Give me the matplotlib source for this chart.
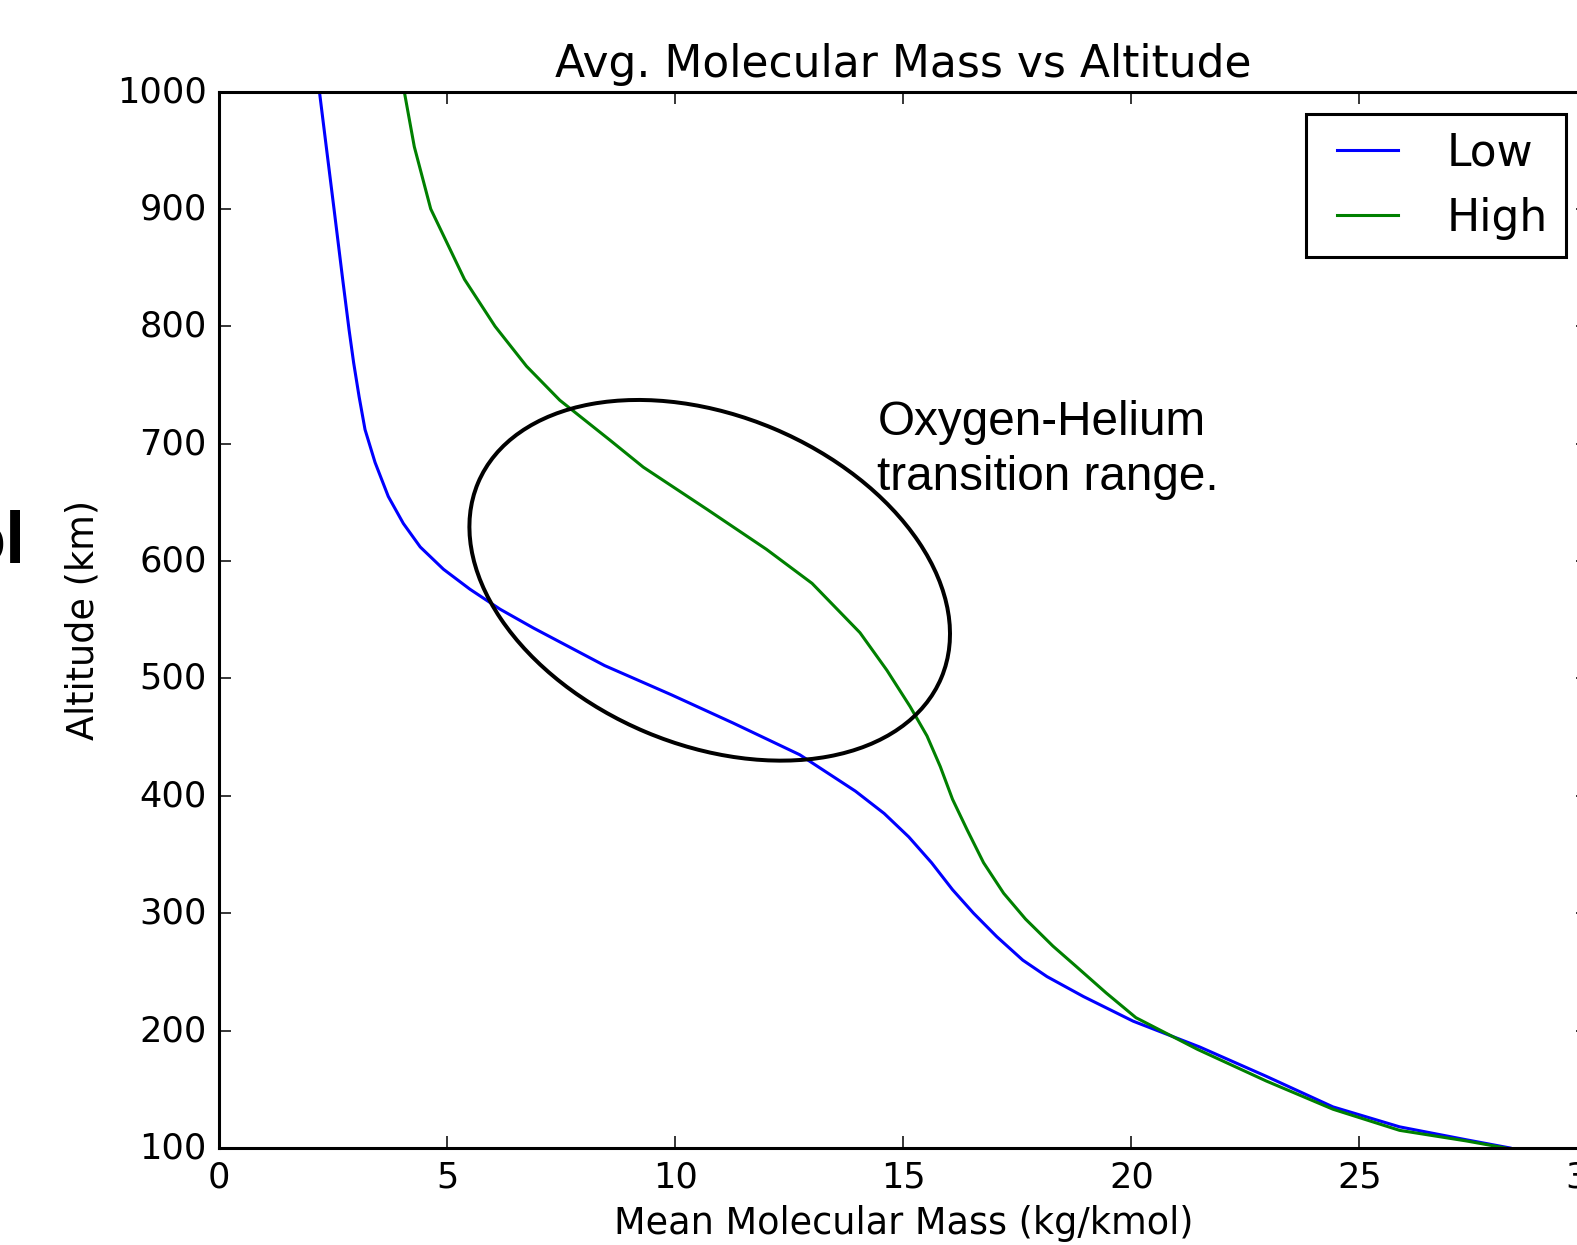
import matplotlib.pyplot as plt
from matplotlib.patches import Ellipse
from matplotlib.transforms import IdentityTransform

plt.style.use('classic')

# values (altitude in km, mass in kg/kmol)
alt_low = [1000, 953, 900, 840, 797, 769, 740, 712, 684, 655, 632, 612, 593, 576, 559, 543,
           511, 486, 462, 435, 404, 385, 365, 343, 320, 300, 280, 260, 246, 229, 208,
           186, 161, 135, 118, 107, 100]
mass_low = [2.20, 2.35, 2.52, 2.71, 2.85, 2.95, 3.07, 3.20, 3.42, 3.71, 4.04, 4.41, 4.92, 5.50, 6.16, 6.89,
            8.45, 9.92, 11.27, 12.73, 13.95, 14.58, 15.12, 15.62, 16.08, 16.54, 17.05, 17.62, 18.15, 18.95, 20.04,
            21.50, 22.96, 24.42, 25.88, 27.34, 28.30]

alt_high = [1000, 953, 900, 840, 800, 766, 737, 703, 680, 644, 610, 581, 539, 507,
            476, 451, 425, 397, 371, 343, 317, 295, 272, 255, 232, 211, 184,
            157, 133, 115, 106, 100]
mass_high = [4.06, 4.28, 4.64, 5.38, 6.05, 6.74, 7.47, 8.57, 9.30, 10.70, 12.00, 13.00, 14.05, 14.64,
             15.15, 15.52, 15.81, 16.08, 16.40, 16.76, 17.20, 17.68, 18.28, 18.78, 19.45, 20.10, 21.45,
             22.96, 24.42, 25.88, 27.34, 28.20]

series_names = ['Low', 'High']
x_ticks = [0, 5, 10, 15, 20, 25, 30]
y_ticks = [100, 200, 300, 400, 500, 600, 700, 800, 900, 1000]

W, H, DPI = 1577, 1245, 220
fig = plt.figure(figsize=((W + 0.5) / DPI, (H + 0.5) / DPI), dpi=DPI, facecolor='white')

# the reference is a crop: the right spine sits just past the image edge
ax = fig.add_axes([219 / W, (H - 1148) / H, (1587 - 219) / W, (1148 - 92) / H])
ax.plot(mass_low, alt_low, color='b', label=series_names[0])
ax.plot(mass_high, alt_high, color='g', label=series_names[1])
ax.set_xlim(0, 30)
ax.set_ylim(100, 1000)
ax.set_xticks(x_ticks)
ax.set_yticks(y_ticks)
ax.tick_params(labelsize=11.5)
ax.set_title('Avg. Molecular Mass vs Altitude')
ax.set_xlabel('Mean Molecular Mass (kg/kmol)', labelpad=3.5)
ax.set_ylabel('Altitude (km)')
ax.legend(loc='upper right')

# hand-drawn markup on top of the chart
fig.add_artist(Ellipse((709.7, H - 580.3), 502.6, 329.3, angle=-22.8, fill=False,
                       ec='black', lw=1.3, transform=IdentityTransform()))
fig.text(877 / W, 1 - 490 / H, 'Oxygen-Helium\ntransition range.', family='Liberation Sans',
         fontsize=15.6, ha='left', va='baseline', linespacing=1.3)
fig.text(-39 / W, 1 - 562 / H, 'ol', family='Liberation Sans', fontweight='bold',
         fontsize=23.6, ha='left', va='baseline')

fig.savefig('out.png', dpi=DPI, facecolor='white')
